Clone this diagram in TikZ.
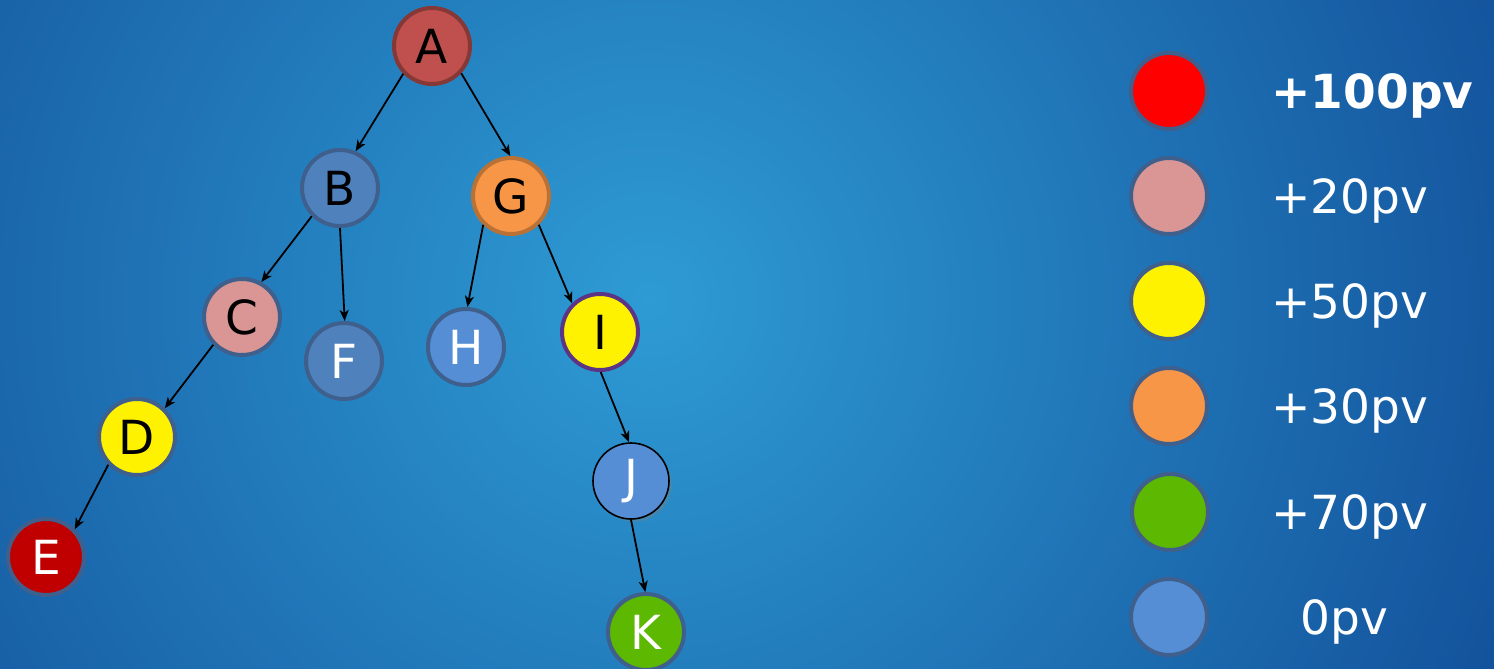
\documentclass[tikz,border=0pt]{standalone}
\usepackage{fontspec}
\setmainfont{DejaVu Sans}
\usetikzlibrary{shadows, arrows.meta}

\definecolor{bgcentre}{HTML}{2E9BD4}
\definecolor{bgedge}{HTML}{13529C}
\definecolor{ringblue}{HTML}{3F5F8C}
\definecolor{pvred}{HTML}{C0504D}
\definecolor{pvpink}{HTML}{D99694}
\definecolor{pvorange}{HTML}{F79646}
\definecolor{pvgreen}{HTML}{5CB800}
\definecolor{pvblue}{HTML}{558ED5}
\definecolor{pvdarkblue}{HTML}{4F81BD}
\definecolor{pvdarkred}{HTML}{C00000}

\pgfdeclareradialshading{bgglow}{\pgfpoint{0bp}{0bp}}{color(0bp)=(bgcentre); color(920bp)=(bgedge); color(1000bp)=(bgedge)}

\begin{document}
\begin{tikzpicture}[x = 1pt, y = -1pt,
		vertex/.style = {circle, minimum size = 76pt, inner sep = 0pt, line width = 4pt,
			draw = ringblue, font = \fontsize{47}{47}\selectfont},
		edge/.style = {->, >={Stealth[length = 11pt, width = 9pt, inset = 3pt]}, line width = 1.8pt},
		legendtext/.style = {anchor = base west, text = white, font = \fontsize{47}{47}\selectfont}]
	
		% Background
		\useasboundingbox (0, 0) rectangle (1494, 669);
		\clip (0, 0) rectangle (1494, 669);
		\node[inner sep = 0pt] (glow) at (650, 300) {\pgfuseshading{bgglow}};
		
		% Tree
		\node[vertex, fill = pvred, draw = pvred!70!black] (A) at (432, 46) {A};
		\node[vertex, fill = pvdarkblue] (B) at (340, 188) {B};
		\node[vertex, fill = pvorange, draw = pvorange!75!black] (G) at (511, 196) {G};
		\node[vertex, fill = pvpink] (C) at (242, 317) {C};
		\node[vertex, fill = pvdarkblue, text = white] (F) at (344, 361) {F};
		\node[vertex, fill = pvblue, text = white] (H) at (466, 347) {H};
		\node[vertex, fill = yellow, draw = violet!45!ringblue] (I) at (600, 332) {I};
		\node[vertex, fill = yellow] (D) at (137, 437) {D};
		\node[vertex, fill = pvdarkred, text = white] (E) at (46, 557) {E};
		\node[vertex, fill = pvblue, text = white, draw = black, line width = 1.6pt,
			drop shadow = {opacity = 0.35}] (J) at (631, 481) {J};
		\node[vertex, fill = pvgreen, text = white] (K) at (646, 632) {K};
		
		% Arrows
		\draw[edge] (A.224) -- (B.67);
		\draw[edge] (A.317) -- (G.91);
		\draw[edge] (B.225) -- (C.61);
		\draw[edge] (B.270) -- (F.89);
		\draw[edge] (G.226) -- (H.88);
		\draw[edge] (G.314) -- (I.134);
		\draw[edge] (C.224) -- (D.46);
		\draw[edge] (D.224) -- (E.44);
		\draw[edge] (I.271) -- (J.93);
		\draw[edge] (J.270) -- (K.91);
		
		% Legend
		\node[vertex, fill = red] (l100) at (1169, 91) {};
		\node[vertex, fill = pvpink] (l20) at (1169, 196) {};
		\node[vertex, fill = yellow] (l50) at (1169, 301) {};
		\node[vertex, fill = pvorange] (l30) at (1169, 406) {};
		\node[vertex, fill = pvgreen] (l70) at (1170, 512) {};
		\node[vertex, fill = pvblue] (l0) at (1169, 617) {};
		
		\node[legendtext, font = \fontsize{47}{47}\bfseries] (t100) at (1268, 108) {+100pv};
		\node[legendtext] (t20) at (1268, 213) {+20pv};
		\node[legendtext] (t50) at (1268, 318) {+50pv};
		\node[legendtext] (t30) at (1268, 423) {+30pv};
		\node[legendtext] (t70) at (1268, 529) {+70pv};
		\node[legendtext] (t0) at (1297, 634) {0pv};
		
	\end{tikzpicture}
\end{document}
